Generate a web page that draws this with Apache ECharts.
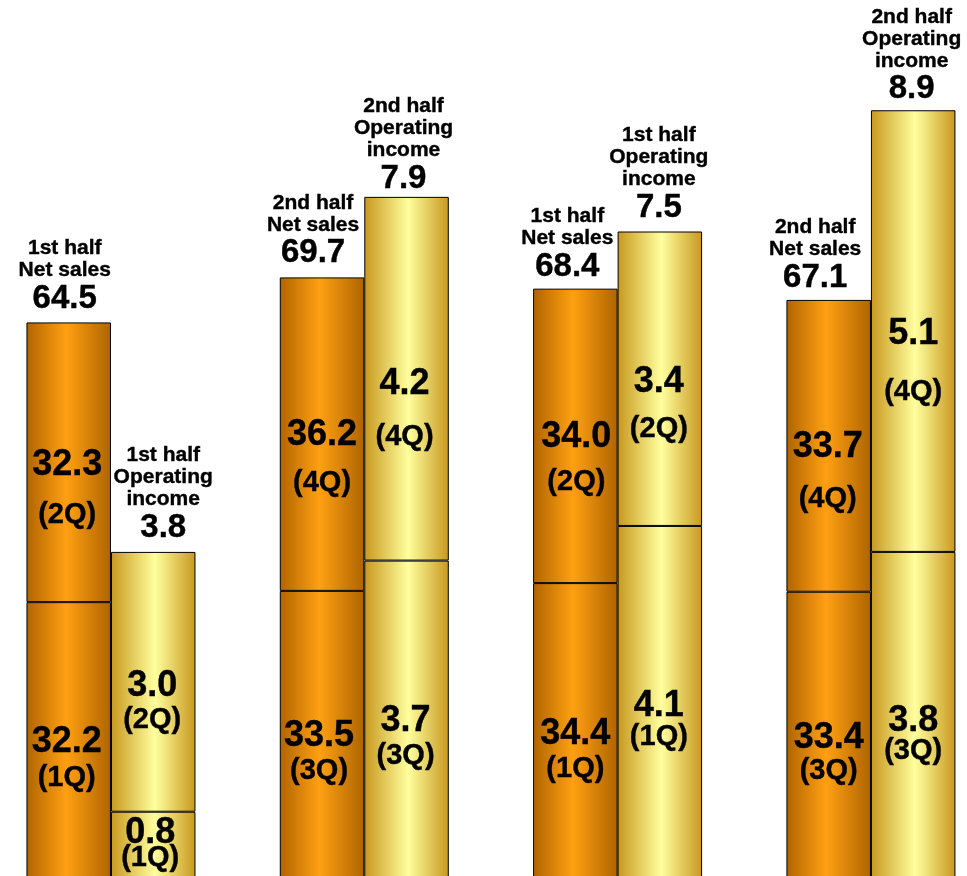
<!DOCTYPE html>
<html><head><meta charset="utf-8">
<script src="https://cdn.jsdelivr.net/npm/echarts@6/dist/echarts.min.js"></script>
<style>html,body{margin:0;padding:0;background:#fff}#c{width:967px;height:876px}</style>
</head><body><div id="c"></div>
<script>
// ---- data ----
const periods = ['Period 1', 'Period 2', 'Period 3', 'Period 4'];
const halfNames = ['1st half', '2nd half', '1st half', '2nd half'];
const salesLower = [32.2, 33.5, 34.4, 33.4];
const salesUpper = [32.3, 36.2, 34.0, 33.7];
const salesTotal = [64.5, 69.7, 68.4, 67.1];
const incomeLower = [0.8, 3.7, 4.1, 3.8];
const incomeUpper = [3.0, 4.2, 3.4, 5.1];
const incomeTotal = [3.8, 7.9, 7.5, 8.9];
const salesLowerQ = ['(1Q)', '(3Q)', '(1Q)', '(3Q)'];
const salesUpperQ = ['(2Q)', '(4Q)', '(2Q)', '(4Q)'];
const incomeLowerQ = ['(1Q)', '(3Q)', '(1Q)', '(3Q)'];
const incomeUpperQ = ['(2Q)', '(4Q)', '(2Q)', '(4Q)'];

// ---- label placement tweaks (style only): [dx, valueDy, quarterGap] ----
const salesLowerPos = [[-2, 0.5, 38], [-3, 0.5, 37], [0, 2.5, 37], [0, 2, 35]];
const salesUpperPos = [[-1.5, 2.5, 53], [0, 1, 50], [1, 1.5, 47], [-1, 1.5, 54.5]];
const incomeLowerPos = [[-3, -13, 27], [-1, 0.5, 37], [-1, 2.5, 34], [0, 4.5, 33]];
const incomeUpperPos = [[-1, 4, 37], [-2, 5.5, 55], [-1, 3.5, 49], [0, 2.5, 60.5]];
const salesHeadPos = [[-4, 0], [-9, -0.5], [-8, 1.8], [-13.5, 1]];
const incomeHeadPos = [[10, -1], [-3, 5.5], [-1, 0], [-1.5, 2.5]];

const FONT = 'Liberation Sans';
const orange = new echarts.graphic.LinearGradient(0, 0, 1, 0, [
  { offset: 0, color: '#B06400' }, { offset: 0.47, color: '#FFA012' }, { offset: 1, color: '#AE6400' }]);
const yellow = new echarts.graphic.LinearGradient(0, 0, 1, 0, [
  { offset: 0, color: '#C8981E' }, { offset: 0.52, color: '#FFFF9E' }, { offset: 1, color: '#C8981E' }]);

const txt = (size, lh) => ({ fontSize: size, fontWeight: 'bold', fontFamily: FONT, color: '#000', lineHeight: lh, textBorderColor: '#000', textBorderWidth: 0.4 });

function segData(values, qs, pos) {
  return values.map((v, i) => {
    const [dx, vdy, gap] = pos[i];
    const g = gap - 2.5, lv = 20, lq = 2 * g - lv;
    return {
      value: v,
      label: {
        show: true, position: 'inside', offset: [dx, vdy + g - 10],
        formatter: '{v|' + v.toFixed(1) + '}\n{q|' + qs[i] + '}',
        rich: { v: txt(36, lv), q: txt(29, lq) }
      }
    };
  });
}
function headData(totals, lines, pos) {
  return totals.map((t, i) => ({
    value: 0,
    label: {
      show: true, position: 'top', distance: 6, offset: pos[i],
      formatter: lines(i).map(s => '{h|' + s + '}').join('\n') + '\n{t|' + t.toFixed(1) + '}',
      rich: { h: txt(21, 22), t: txt(33, 35) }
    }
  }));
}

const seg = (name, stack, yi, data, color) => ({
  name, type: 'bar', stack, yAxisIndex: yi, barWidth: 84.5, barGap: '0%', data,
  itemStyle: { color, borderColor: '#000', borderWidth: 1 }, silent: true
});
const head = (name, stack, yi, data) => ({
  name, type: 'bar', stack, yAxisIndex: yi, barWidth: 84.5, barGap: '0%', data,
  itemStyle: { color: 'rgba(0,0,0,0)', borderWidth: 0 }, silent: true
});

const chart = echarts.init(document.getElementById('c'), null, { renderer: 'canvas' });
chart.setOption({
  animation: false,
  backgroundColor: '#fff',
  grid: { left: -15.7, right: -30.6, top: 15, bottom: -5, containLabel: false, outerBoundsMode: 'none' },
  xAxis: { type: 'category', data: periods, show: false },
  yAxis: [
    { type: 'value', min: 0, max: 100, show: false },
    { type: 'value', min: 0, max: 10, show: false }
  ],
  series: [
    seg('Net sales lower', 'sales', 0, segData(salesLower, salesLowerQ, salesLowerPos), orange),
    seg('Net sales upper', 'sales', 0, segData(salesUpper, salesUpperQ, salesUpperPos), orange),
    head('Net sales total', 'sales', 0, headData(salesTotal, i => [halfNames[i], 'Net sales'], salesHeadPos)),
    seg('Operating income lower', 'income', 1, segData(incomeLower, incomeLowerQ, incomeLowerPos), yellow),
    seg('Operating income upper', 'income', 1, segData(incomeUpper, incomeUpperQ, incomeUpperPos), yellow),
    head('Operating income total', 'income', 1, headData(incomeTotal, i => [halfNames[i], 'Operating', 'income'], incomeHeadPos))
  ]
});
</script></body></html>
